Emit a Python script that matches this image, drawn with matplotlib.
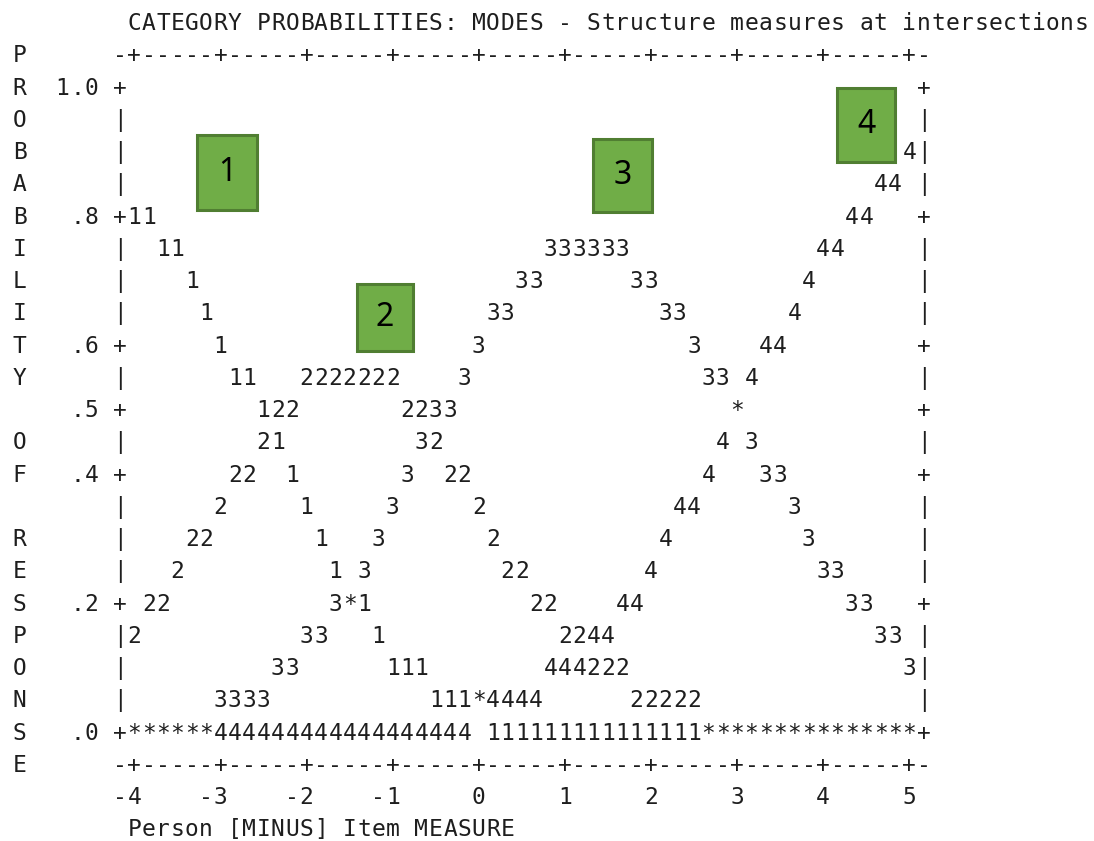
#!/usr/bin/env python3
"""Winsteps-style category probability curves (text plot) with category boxes."""
import matplotlib
matplotlib.use("Agg")
import matplotlib.pyplot as plt
from matplotlib.patches import Rectangle
from matplotlib.transforms import offset_copy

# --- data -------------------------------------------------------------------
TITLE = "CATEGORY PROBABILITIES: MODES - Structure measures at intersections"
X_LABEL = "Person [MINUS] Item MEASURE"
Y_LABEL = "PROBABILITY OF RESPONSE"

X_TICKS = [-4, -3, -2, -1, 0, 1, 2, 3, 4, 5]
Y_TICKS = [1.0, 0.8, 0.6, 0.5, 0.4, 0.2, 0.0]
Y_TICK_LABELS = ["1.0", ".8", ".6", ".5", ".4", ".2", ".0"]

# one text row per 0.05 of probability, 6 characters per logit
ROW_PROBS = [1.00, 0.95, 0.90, 0.85, 0.80, 0.75, 0.70, 0.65, 0.60, 0.55, 0.50,
             0.45, 0.40, 0.35, 0.30, 0.25, 0.20, 0.15, 0.10, 0.05, 0.00]
S = " "
CURVE_ROWS = [
    "",
    "",
    S*54 + "4",
    S*52 + "44",
    "11" + S*48 + "44",
    S*2 + "11" + S*25 + "333333" + S*13 + "44",
    S*4 + "1" + S*22 + "33" + S*6 + "33" + S*10 + "4",
    S*5 + "1" + S*19 + "33" + S*10 + "33" + S*7 + "4",
    S*6 + "1" + S*17 + "3" + S*14 + "3" + S*4 + "44",
    S*7 + "11" + S*3 + "2222222" + S*4 + "3" + S*16 + "33" + S + "4",
    S*9 + "122" + S*7 + "2233" + S*19 + "*",
    S*9 + "21" + S*9 + "32" + S*19 + "4" + S + "3",
    S*7 + "22" + S*2 + "1" + S*7 + "3" + S*2 + "22" + S*16 + "4" + S*3 + "33",
    S*6 + "2" + S*5 + "1" + S*5 + "3" + S*5 + "2" + S*13 + "44" + S*6 + "3",
    S*4 + "22" + S*7 + "1" + S*3 + "3" + S*7 + "2" + S*11 + "4" + S*9 + "3",
    S*3 + "2" + S*10 + "1" + S + "3" + S*9 + "22" + S*8 + "4" + S*11 + "33",
    S + "22" + S*11 + "3*1" + S*11 + "22" + S*4 + "44" + S*14 + "33",
    "2" + S*11 + "33" + S*3 + "1" + S*12 + "2244" + S*18 + "33",
    S*10 + "33" + S*6 + "111" + S*8 + "444222" + S*19 + "3",
    S*6 + "3333" + S*11 + "111*4444" + S*6 + "22222",
    "******" + "4"*18 + S + "1"*15 + "*"*15,
]

# category callout boxes (logit, probability of box centre)
CATEGORIES = ["1", "2", "3", "4"]
CAT_MEASURE = [-2.92, -1.09, 1.67, 4.50]
CAT_PROB = [0.866, 0.641, 0.862, 0.940]

# --- layout / style -----------------------------------------------------------
INK = "#1e1e1e"
BOX_FILL = "#70AD47"
BOX_EDGE = "#507E32"
MONO = "DejaVu Sans Mono"
FS = 16.5
STEP = 1 / 6          # logits per character column
LINE = 0.05           # probability per text line
BOX_W = [0.70, 0.65, 0.69, 0.67]
BOX_H = [0.116, 0.104, 0.113, 0.115]

fig = plt.figure(figsize=(10.94, 8.41), dpi=100)
ax = fig.add_axes([0, 0, 1, 1])
ax.set_xlim(-5.5604, 7.1458)
ax.set_ylim(-0.17016, 1.1337)
ax.axis("off")

base = offset_copy(ax.transData, fig=fig, y=-8.3, units="dots")


def put(text, x0, y):
    """Draw a string one monospace cell at a time starting at logit x0."""
    for k, ch in enumerate(text):
        if ch != " ":
            ax.text(x0 + k * STEP, y, ch, transform=base, ha="center",
                    va="baseline", family=MONO, fontsize=FS, color=INK)


left = X_TICKS[0] - STEP
right = X_TICKS[0] + 55 * STEP
top = ROW_PROBS[0] + LINE
bottom = ROW_PROBS[-1] - LINE

# title and x-axis caption
put(TITLE, X_TICKS[0], top + LINE)
put(X_LABEL, X_TICKS[0], bottom - 2 * LINE)

# framing axis lines with tick marks
n_cols = int(round((right - left) / STEP)) + 1
axis_line = "".join(
    "+" if (k - 1) % 6 == 0 and 1 <= k <= n_cols - 2 else "-" for k in range(n_cols))
put(axis_line, left, top)
put(axis_line, left, bottom)

# x tick labels, right-aligned on the tick
for t in X_TICKS:
    s = str(t)
    put(s, t - (len(s) - 1) * STEP, bottom - LINE)

# y tick labels, right-aligned two cells left of the frame
for v, s in zip(Y_TICKS, Y_TICK_LABELS):
    put(s, left - 2 * STEP - (len(s) - 1) * STEP, v)

# vertical axis caption, one letter per line
for k, ch in enumerate(Y_LABEL):
    put(ch, left - 7 * STEP, top - k * LINE)

# curve rows with side frames
for pr, row in zip(ROW_PROBS, CURVE_ROWS):
    edge = "+" if any(abs(pr - v) < 1e-9 for v in Y_TICKS) else "|"
    put(edge, left, pr)
    put(edge, right, pr)
    put(row, X_TICKS[0], pr)

# green category boxes
for lab, m, p, w, h in zip(CATEGORIES, CAT_MEASURE, CAT_PROB, BOX_W, BOX_H):
    ax.add_patch(Rectangle((m - w / 2, p - h / 2), w, h, facecolor=BOX_FILL,
                           edgecolor=BOX_EDGE, linewidth=2.2, zorder=3))
    ax.text(m, p, lab, ha="center", va="center", family="Noto Sans",
            fontsize=23, color="black", zorder=4)

fig.savefig("out.png", dpi=100, facecolor="white")
